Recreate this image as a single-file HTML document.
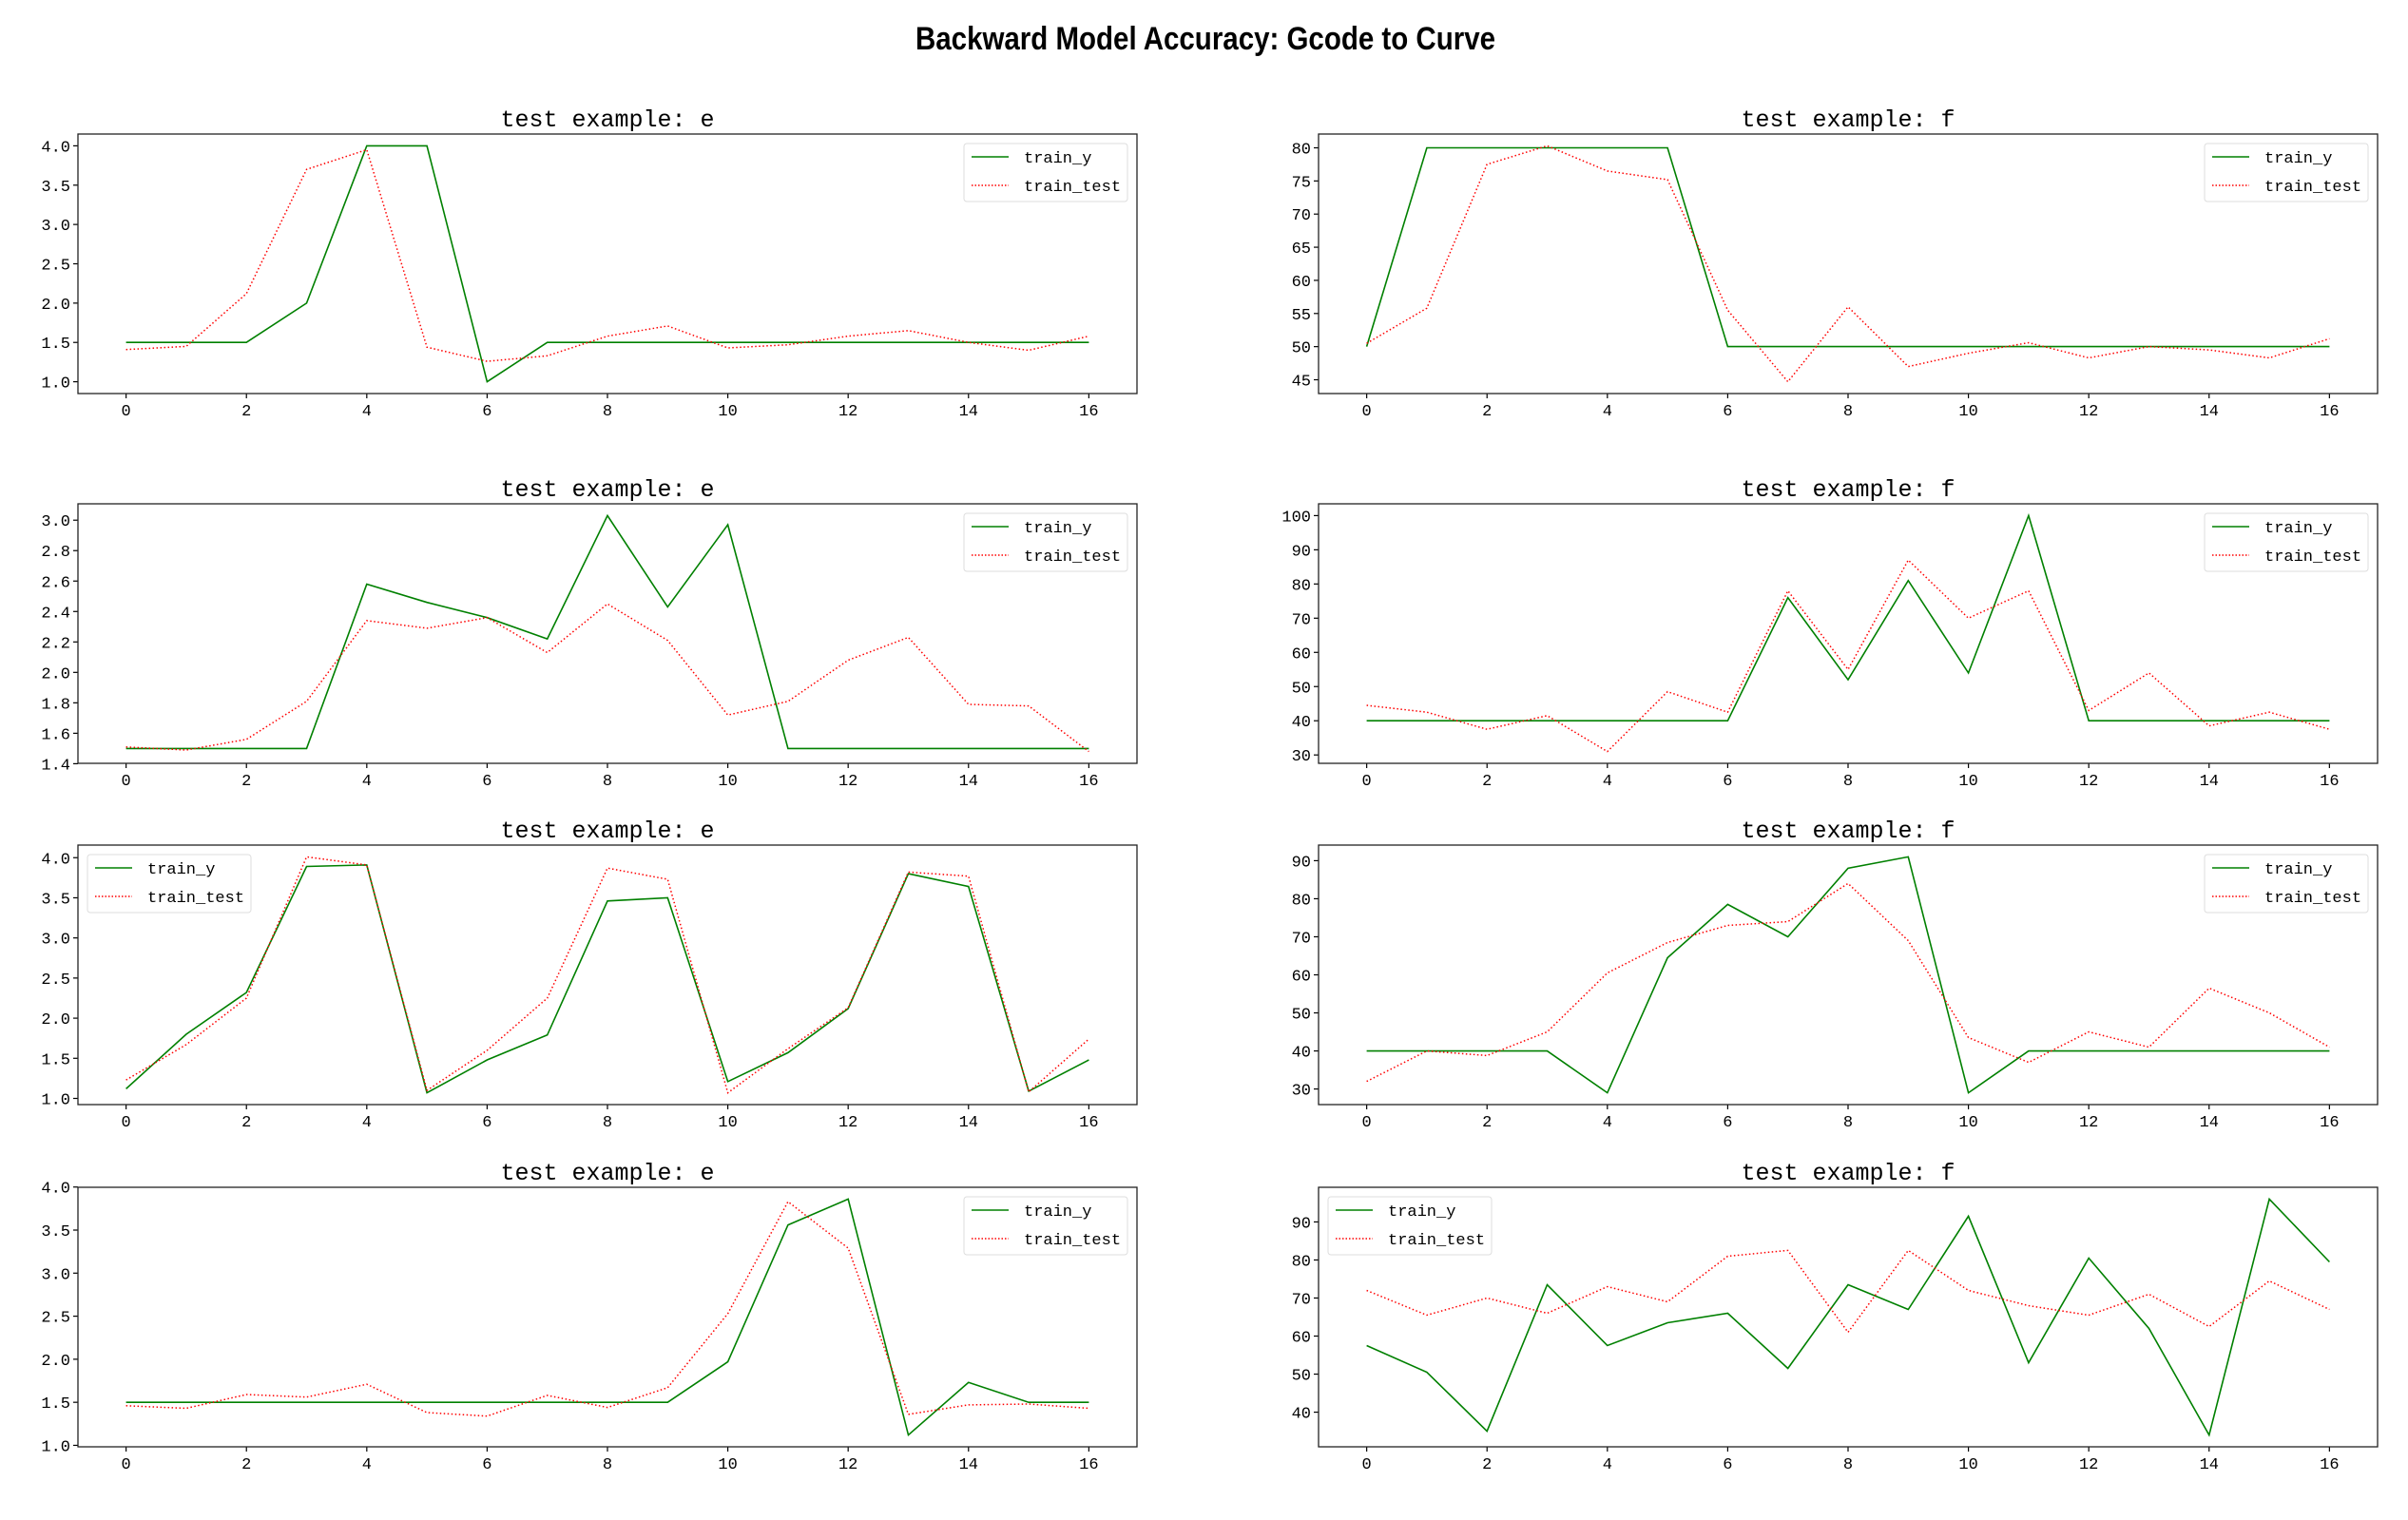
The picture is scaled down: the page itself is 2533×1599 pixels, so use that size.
<!DOCTYPE html>
<html><head><meta charset="utf-8"><style>
html,body{margin:0;padding:0;background:#fff;}
svg{display:block;}
</style></head><body>
<svg id="s" width="2533" height="1599" xmlns="http://www.w3.org/2000/svg">
<rect width="2533" height="1599" fill="#fff"/>
<text x="1268" y="52" text-anchor="middle" font-family="Liberation Sans, Noto Sans CJK SC, sans-serif" font-weight="bold" font-size="34" textLength="610" lengthAdjust="spacingAndGlyphs" fill="#000">Backward Model Accuracy: Gcode to Curve</text>
<g id="g"></g>
</svg>
<script>
var panels=[
{x:82,y:141,title:"test example: e",ticks:["1.0","1.5","2.0","2.5","3.0","3.5","4.0"],leg:"r",
a:[1.5,1.5,1.5,2.0,4.0,4.0,1.0,1.5,1.5,1.5,1.5,1.5,1.5,1.5,1.5,1.5,1.5],
b:[1.41,1.45,2.12,3.7,3.95,1.44,1.26,1.33,1.58,1.71,1.43,1.47,1.58,1.65,1.5,1.4,1.58]},
{x:1387,y:141,title:"test example: f",ticks:["45","50","55","60","65","70","75","80"],leg:"r",
a:[50,80,80,80,80,80,50,50,50,50,50,50,50,50,50,50,50],
b:[50.5,55.8,77.5,80.3,76.5,75.2,55.5,44.7,56,47,49,50.6,48.3,50,49.5,48.3,51.2]},
{x:82,y:530,title:"test example: e",ticks:["1.4","1.6","1.8","2.0","2.2","2.4","2.6","2.8","3.0"],leg:"r",
a:[1.5,1.5,1.5,1.5,2.58,2.46,2.36,2.22,3.03,2.43,2.97,1.5,1.5,1.5,1.5,1.5,1.5],
b:[1.51,1.49,1.56,1.81,2.34,2.29,2.36,2.13,2.45,2.21,1.72,1.81,2.08,2.23,1.79,1.78,1.48]},
{x:1387,y:530,title:"test example: f",ticks:["30","40","50","60","70","80","90","100"],leg:"r",
a:[40,40,40,40,40,40,40,76,52,81,54,100,40,40,40,40,40],
b:[44.5,42.5,37.5,41.5,31,48.5,42.5,78,55,87,70,78,43,54,38.5,42.5,37.5]},
{x:82,y:889,title:"test example: e",ticks:["1.0","1.5","2.0","2.5","3.0","3.5","4.0"],leg:"l",
a:[1.12,1.8,2.32,3.89,3.91,1.07,1.48,1.79,3.46,3.5,1.21,1.57,2.12,3.8,3.64,1.09,1.48],
b:[1.23,1.67,2.25,4.01,3.91,1.1,1.6,2.25,3.87,3.73,1.07,1.62,2.13,3.82,3.77,1.08,1.74]},
{x:1387,y:889,title:"test example: f",ticks:["30","40","50","60","70","80","90"],leg:"r",
a:[40,40,40,40,29,64.5,78.5,70,88,91,29,40,40,40,40,40,40],
b:[32,40,38.8,45,60.5,68.5,73,74,84,69,43.5,37,45,41,56.5,50,41]},
{x:82,y:1249,title:"test example: e",ticks:["1.0","1.5","2.0","2.5","3.0","3.5","4.0"],leg:"r",
a:[1.5,1.5,1.5,1.5,1.5,1.5,1.5,1.5,1.5,1.5,1.97,3.56,3.86,1.12,1.73,1.5,1.5],
b:[1.46,1.43,1.59,1.56,1.71,1.38,1.34,1.58,1.44,1.67,2.53,3.83,3.29,1.36,1.47,1.48,1.43]},
{x:1387,y:1249,title:"test example: f",ticks:["40","50","60","70","80","90"],leg:"l",
a:[57.5,50.5,35,73.5,57.5,63.5,66,51.5,73.5,67,91.5,53,80.5,62,34,96,79.5],
b:[72,65.5,70,66,73,69,81,82.5,61,82.5,72,68,65.5,71,62.5,74.5,67]}
];
var xt=["0","2","4","6","8","10","12","14","16"];
var W=1114,H=273,F='font-family="Liberation Mono, monospace"';
var out="";
panels.forEach(function(p){
 var all=p.a.concat(p.b),mn=Math.min.apply(0,all),mx=Math.max.apply(0,all),r=mx-mn;
 var lo=mn-0.05*r,hi=mx+0.05*r;
 function X(i){return p.x+(i+0.8)/17.6*W;}
 function Y(v){return p.y+H-(v-lo)/(hi-lo)*H;}
 out+='<text x="'+(p.x+W/2)+'" y="'+(p.y-8)+'" text-anchor="middle" '+F+' font-size="25" fill="#000">'+p.title+'</text>';
 xt.forEach(function(t){var xx=X(+t);out+='<line x1="'+xx+'" y1="'+(p.y+H)+'" x2="'+xx+'" y2="'+(p.y+H+5)+'" stroke="#000" stroke-width="1.2"/><text x="'+xx+'" y="'+(p.y+H+23)+'" text-anchor="middle" '+F+' font-size="17" fill="#000">'+t+'</text>';});
 p.ticks.forEach(function(t){var yy=Y(+t);out+='<line x1="'+(p.x-5)+'" y1="'+yy+'" x2="'+p.x+'" y2="'+yy+'" stroke="#000" stroke-width="1.2"/><text x="'+(p.x-8)+'" y="'+(yy+6)+'" text-anchor="end" '+F+' font-size="17" fill="#000">'+t+'</text>';});
 var pa=p.a.map(function(v,i){return X(i).toFixed(1)+","+Y(v).toFixed(1);}).join(" ");
 var pb=p.b.map(function(v,i){return X(i).toFixed(1)+","+Y(v).toFixed(1);}).join(" ");
 out+='<polyline points="'+pa+'" fill="none" stroke="#008000" stroke-width="1.6"/>';
 out+='<polyline points="'+pb+'" fill="none" stroke="#ff0000" stroke-width="1.5" stroke-dasharray="1.5,2.5"/>';
 out+='<rect x="'+p.x+'" y="'+p.y+'" width="'+W+'" height="'+H+'" fill="none" stroke="#222" stroke-width="1.3"/>';
 var lx=p.leg=="r"?p.x+W-182:p.x+10,ly=p.y+10;
 out+='<rect x="'+lx+'" y="'+ly+'" width="172" height="61" rx="3" fill="#fff" stroke="#ddd" stroke-width="1"/>';
 out+='<line x1="'+(lx+8)+'" y1="'+(ly+14)+'" x2="'+(lx+47)+'" y2="'+(ly+14)+'" stroke="#008000" stroke-width="1.6"/>';
 out+='<line x1="'+(lx+8)+'" y1="'+(ly+44)+'" x2="'+(lx+47)+'" y2="'+(ly+44)+'" stroke="#ff0000" stroke-width="1.5" stroke-dasharray="1.5,2"/>';
 out+='<text x="'+(lx+63)+'" y="'+(ly+20)+'" '+F+' font-size="17" fill="#000">train_y</text>';
 out+='<text x="'+(lx+63)+'" y="'+(ly+50)+'" '+F+' font-size="17" fill="#000">train_test</text>';
});
document.getElementById("g").innerHTML=out;
</script>
</body></html>
